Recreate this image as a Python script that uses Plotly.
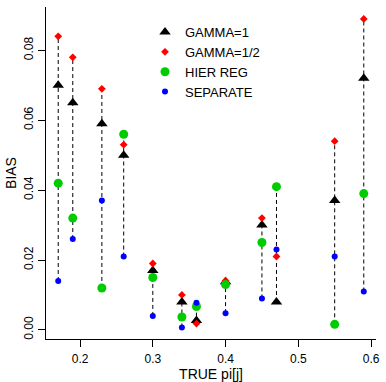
import plotly.graph_objects as go

true_pi = [0.17, 0.19, 0.23, 0.26, 0.30, 0.34, 0.36, 0.40, 0.45, 0.47, 0.55, 0.59]
gamma1 = [0.070, 0.065, 0.059, 0.050, 0.017, 0.008, 0.0027, 0.0138, 0.030, 0.008, 0.037, 0.072]
gamma_half = [0.084, 0.078, 0.069, 0.053, 0.019, 0.010, 0.0018, 0.0141, 0.032, 0.021, 0.054, 0.089]
hier_reg = [0.042, 0.032, 0.012, 0.056, 0.015, 0.0037, 0.0067, 0.013, 0.025, 0.041, 0.0016, 0.039]
separate = [0.014, 0.026, 0.037, 0.021, 0.004, 0.0007, 0.0078, 0.0048, 0.009, 0.023, 0.021, 0.011]

x_ticks = [0.2, 0.3, 0.4, 0.5, 0.6]
y_ticks = [0.00, 0.02, 0.04, 0.06, 0.08]

# dashed vertical segments spanning the range of the four estimates
seg_x, seg_y = [], []
for i, xv in enumerate(true_pi):
    vals = [gamma1[i], gamma_half[i], hier_reg[i], separate[i]]
    seg_x += [xv, xv, None]
    seg_y += [min(vals), max(vals), None]

fig = go.Figure()
fig.add_trace(go.Scatter(x=seg_x, y=seg_y, mode="lines",
                         line=dict(color="black", width=1, dash="4px,3px"),
                         showlegend=False, hoverinfo="skip"))
fig.add_trace(go.Scatter(x=true_pi, y=gamma1, mode="markers", name="GAMMA=1",
                         marker=dict(symbol="triangle-up", size=10, color="black")))
fig.add_trace(go.Scatter(x=true_pi, y=gamma_half, mode="markers", name="GAMMA=1/2",
                         marker=dict(symbol="diamond", size=6, color="#ff0000")))
fig.add_trace(go.Scatter(x=true_pi, y=hier_reg, mode="markers", name="HIER REG",
                         marker=dict(symbol="circle", size=9, color="#00cc00")))
fig.add_trace(go.Scatter(x=true_pi, y=separate, mode="markers", name="SEPARATE",
                         marker=dict(symbol="circle", size=6, color="#0000ff")))

fnt = dict(family="Liberation Sans, Arial, sans-serif", size=12, color="black")
fig.update_layout(
    width=386, height=382,
    margin=dict(l=46, r=6, t=7, b=43),
    plot_bgcolor="white", paper_bgcolor="white",
    font=fnt,
    legend=dict(x=0.30, y=0.97, xanchor="left", yanchor="top",
                bgcolor="rgba(0,0,0,0)", font=dict(size=13)),
    xaxis=dict(range=[0.1532, 0.6068], tickvals=x_ticks, ticktext=[f"{v:.1f}" for v in x_ticks],
               showline=True, linecolor="black", linewidth=1, ticks="outside",
               ticklen=7, tickcolor="black", showgrid=False, zeroline=False,
               ticklabeloverflow="allow", ticklabelstandoff=2,
               title=dict(text="TRUE pi[j]", standoff=0)),
    yaxis=dict(range=[-0.0026, 0.0924], tickvals=y_ticks, ticktext=[f"{v:.2f}" for v in y_ticks],
               tickangle=-90,
               showline=True, linecolor="black", linewidth=1, ticks="outside",
               ticklen=7, tickcolor="black", showgrid=False, zeroline=False,
               title=dict(text="BIAS", standoff=2)),
)
fig.write_html("out.html", config={"displayModeBar": False},
               post_script="document.body.style.margin='0';")
